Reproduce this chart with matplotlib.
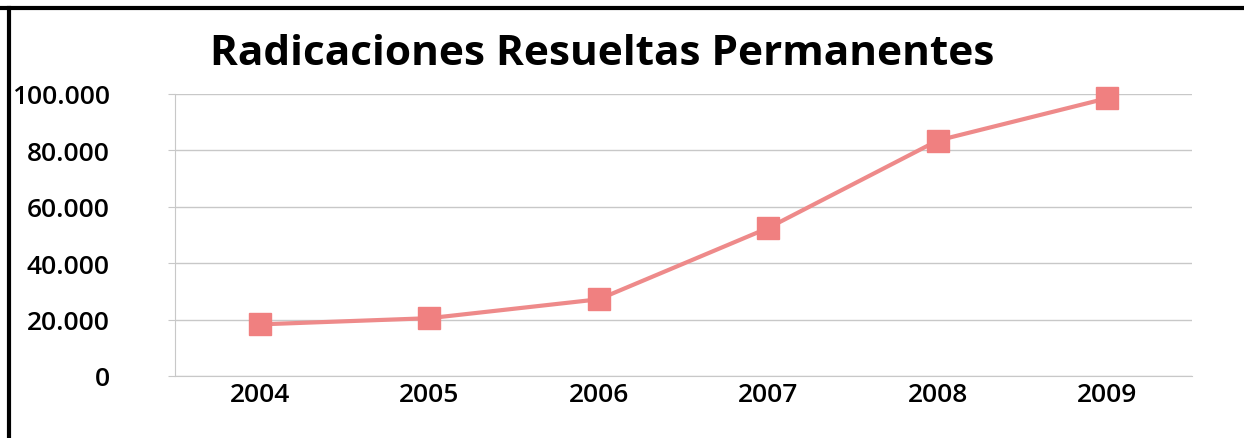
import matplotlib.pyplot as plt
from matplotlib.lines import Line2D
from matplotlib.ticker import FuncFormatter

years = ['2004', '2005', '2006', '2007', '2008', '2009']
resueltas = [18300, 20500, 27200, 52500, 83500, 98500]
yticks = [0, 20000, 40000, 60000, 80000, 100000]

plt.rcParams['font.family'] = ['Open Sans', 'DejaVu Sans']

fig = plt.figure(figsize=(12.44, 4.39), dpi=100)
ax = fig.add_axes([175/1244, 1 - 377/439, (1192 - 175)/1244, (377 - 95)/439])

x = range(len(years))
ax.plot(x, resueltas, color='#ee8a8a', lw=3, marker='s', markersize=16.5,
        markerfacecolor='#f08080', markeredgecolor='#f08080', zorder=3, clip_on=False)

ax.set_xlim(-0.5, len(years) - 0.5)
ax.set_ylim(0, 100000)
ax.set_yticks(yticks)
ax.yaxis.set_major_formatter(FuncFormatter(lambda v, p: '0' if v == 0 else '{:,.0f}'.format(v).replace(',', '.')))
ax.set_xticks(list(x))
ax.set_xticklabels(years)

ax.grid(axis='y', color='#c8c8c8', lw=1)
ax.set_axisbelow(True)
for s in ['top', 'right']:
    ax.spines[s].set_visible(False)
ax.spines['left'].set_color('#c8c8c8')
ax.spines['bottom'].set_color('#c8c8c8')
ax.tick_params(axis='y', length=5, color='#c8c8c8', labelsize=19, pad=42)
ax.tick_params(axis='x', length=0, labelsize=19, pad=4)
for lab in ax.get_yticklabels() + ax.get_xticklabels():
    lab.set_fontweight('semibold')

fig.text(0.484, 0.875, 'Radicaciones Resueltas Permanentes', ha='center', va='center',
         fontsize=30.5, fontweight='bold')

# black scan border (top and left)
fig.add_artist(Line2D([0, 1], [1 - 9/439, 1 - 9/439], color='black', lw=3, transform=fig.transFigure))
fig.add_artist(Line2D([9/1244, 9/1244], [0, 1 - 9/439], color='black', lw=3, transform=fig.transFigure))

fig.savefig('out.png', dpi=100)
